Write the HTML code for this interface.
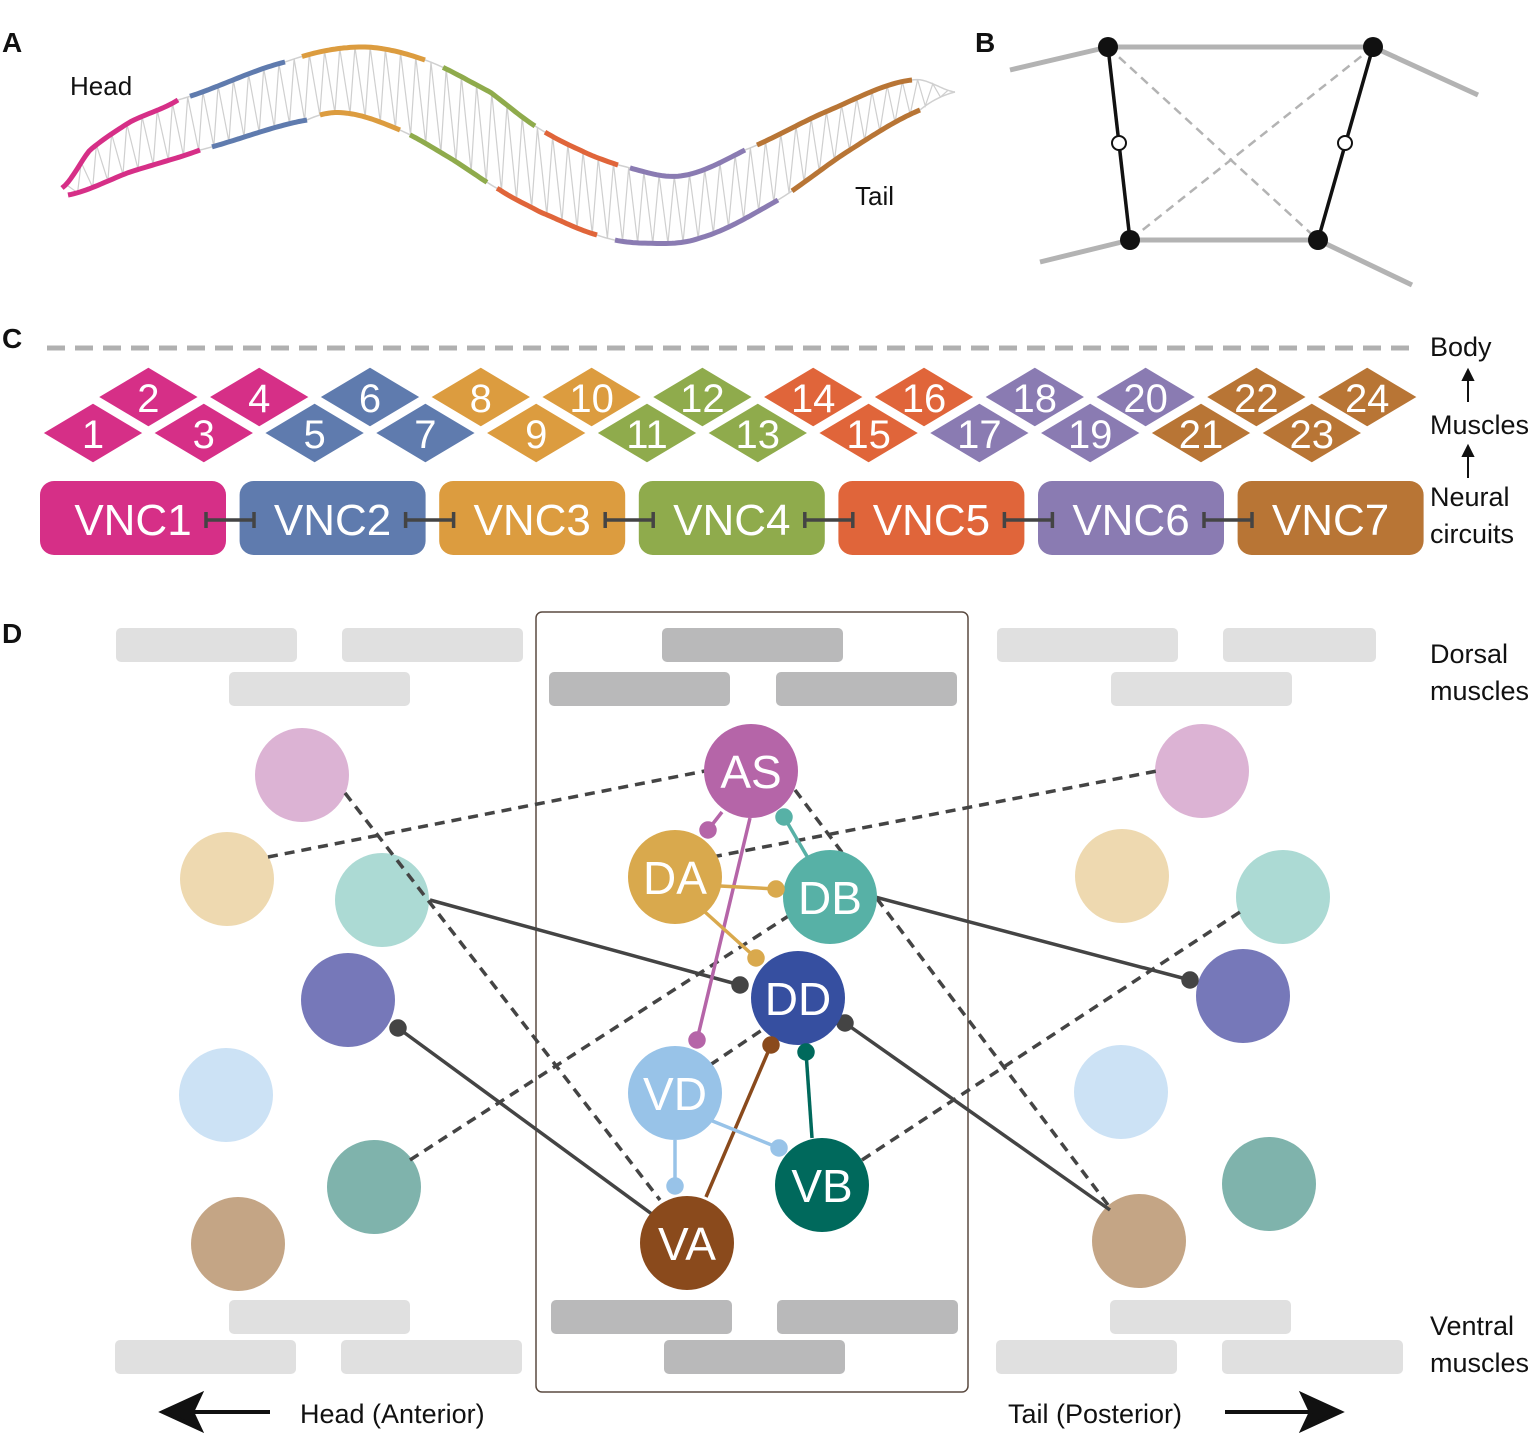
<!DOCTYPE html>
<html><head><meta charset="utf-8">
<style>
html,body{margin:0;padding:0;background:#fff;}
svg{display:block;font-family:"Liberation Sans",sans-serif;}
</style></head>
<body>
<svg id="s" width="1536" height="1433" viewBox="0 0 1536 1433" xmlns="http://www.w3.org/2000/svg">
<g font-weight="bold" font-size="28" fill="#111">
<text x="2" y="52">A</text><text x="975" y="52">B</text><text x="2" y="348">C</text><text x="2" y="643">D</text>
</g>
<g id="worm"></g>
<text x="70" y="95" font-size="26" fill="#111">Head</text>
<text x="855" y="205" font-size="26" fill="#111">Tail</text>

<!-- B -->
<g stroke="#b3b3b3" stroke-width="5" fill="none">
<line x1="1010" y1="70" x2="1108" y2="47"/><line x1="1108" y1="47" x2="1373" y2="47"/><line x1="1373" y1="47" x2="1478" y2="95"/>
<line x1="1040" y1="262" x2="1130" y2="240"/><line x1="1130" y1="240" x2="1318" y2="240"/><line x1="1318" y1="240" x2="1412" y2="285"/>
</g>
<g stroke="#b3b3b3" stroke-width="2.5" stroke-dasharray="9,6">
<line x1="1108" y1="47" x2="1318" y2="240"/><line x1="1373" y1="47" x2="1130" y2="240"/>
</g>
<g stroke="#111" stroke-width="3.5"><line x1="1108" y1="47" x2="1130" y2="240"/><line x1="1373" y1="47" x2="1318" y2="240"/></g>
<g fill="#111"><circle cx="1108" cy="47" r="10"/><circle cx="1373" cy="47" r="10"/><circle cx="1130" cy="240" r="10"/><circle cx="1318" cy="240" r="10"/></g>
<g fill="#fff" stroke="#111" stroke-width="2"><circle cx="1119" cy="143" r="7"/><circle cx="1345" cy="143" r="7"/></g>

<!-- C -->
<line x1="47" y1="348" x2="1418" y2="348" stroke="#b0b0b0" stroke-width="5" stroke-dasharray="18,10"/>
<g id="dia"></g>
<g id="vnc"></g>
<g font-size="27" fill="#111">
<text x="1430" y="356">Body</text><text x="1430" y="434">Muscles</text>
<text x="1430" y="506">Neural</text><text x="1430" y="543">circuits</text>
</g>
<g stroke="#111" stroke-width="2" fill="#111">
<line x1="1468" y1="402" x2="1468" y2="376"/><path d="M1463,380 L1468,370 L1473,380Z"/>
<line x1="1468" y1="478" x2="1468" y2="452"/><path d="M1463,456 L1468,446 L1473,456Z"/>
</g>

<!-- D -->
<g id="bars"></g>
<rect x="536" y="612" width="432" height="780" rx="6" fill="none" stroke="#5a4a40" stroke-width="1.5"/>
<g id="circs"></g>
<g stroke="#444" stroke-width="3.5" fill="none" stroke-dasharray="10,7">
<line x1="268" y1="857" x2="705" y2="771"/>
<line x1="712" y1="857" x2="1157" y2="771"/>
<line x1="345" y1="793" x2="660" y2="1200"/>
<line x1="795" y1="790" x2="1108" y2="1205"/>
<line x1="410" y1="1160" x2="790" y2="915"/>
<line x1="862" y1="1160" x2="1240" y2="912"/>
<line x1="710" y1="1065" x2="765" y2="1028"/>
</g>
<g stroke="#444" stroke-width="3.5" fill="#444">
<line x1="430" y1="900" x2="740" y2="985"/><circle cx="740" cy="985" r="7"/>
<line x1="875" y1="897" x2="1190" y2="980"/><circle cx="1190" cy="980" r="7"/>
<line x1="398" y1="1028" x2="660" y2="1220"/><circle cx="398" cy="1028" r="7"/>
<line x1="845" y1="1023" x2="1110" y2="1210"/><circle cx="845" cy="1023" r="7"/>
</g>
<g id="main"></g>
<g stroke-width="3.5">
<g stroke="#b565a8" fill="#b565a8"><line x1="722" y1="812" x2="708" y2="830"/><circle cx="708" cy="830" r="7"/>
<line x1="750" y1="818" x2="697" y2="1040"/><circle cx="697" cy="1040" r="7"/></g>
<g stroke="#57b1a6" fill="#57b1a6"><line x1="784" y1="817" x2="808" y2="858"/><circle cx="784" cy="817" r="7"/></g>
<g stroke="#d9a94d" fill="#d9a94d"><line x1="720" y1="886" x2="776" y2="889"/><circle cx="776" cy="889" r="7"/>
<line x1="705" y1="912" x2="756" y2="958"/><circle cx="756" cy="958" r="7"/></g>
<g stroke="#8a4a1c" fill="#8a4a1c"><line x1="706" y1="1197" x2="771" y2="1045"/><circle cx="771" cy="1045" r="7"/></g>
<g stroke="#00695c" fill="#00695c"><line x1="812" y1="1138" x2="806" y2="1052"/><circle cx="806" cy="1052" r="7"/></g>
<g stroke="#98c3e8" fill="#98c3e8"><line x1="675" y1="1140" x2="675" y2="1186"/><circle cx="675" cy="1186" r="7"/>
<line x1="710" y1="1120" x2="779" y2="1148"/><circle cx="779" cy="1148" r="7"/></g>
</g>
<g font-size="27" fill="#111">
<text x="1430" y="663">Dorsal</text><text x="1430" y="700">muscles</text>
<text x="1430" y="1335">Ventral</text><text x="1430" y="1372">muscles</text>
<text x="300" y="1423">Head (Anterior)</text><text x="1008" y="1423">Tail (Posterior)</text>
</g>
<g fill="#111" stroke="#111" stroke-width="4">
<line x1="190" y1="1412" x2="270" y2="1412"/><path d="M163,1412 L200,1395 L192,1412 L200,1429Z"/>
<line x1="1225" y1="1412" x2="1312" y2="1412"/><path d="M1340,1412 L1303,1395 L1311,1412 L1303,1429Z"/>
</g>
</svg>
<script>
var NS="http://www.w3.org/2000/svg";
function el(p,t,a,txt){var e=document.createElementNS(NS,t);for(var k in a)e.setAttribute(k,a[k]);if(txt!==undefined)e.textContent=txt;document.getElementById(p).appendChild(e);return e;}
var cols=["#d62f87","#5f7bae","#dc9c3f","#8fab4c","#e0653a","#8a7bb2","#b87535"];
var U=[[62,188],[90,150],[130,122],[178,100],[285,62],[360,47],[425,60],[490,92],[535,126],[580,150],[618,165],[680,176],[745,150],[830,110],[912,80],[955,92]];
var L=[[68,195],[130,172],[200,150],[307,120],[345,113],[400,130],[450,158],[500,190],[540,212],[597,235],[640,243],[700,238],[778,200],[850,150],[920,110],[955,92]];
function at(P,x){var n=P.length;for(var i=0;i<n-1;i++){if(x<=P[i+1][0]){var t=(x-P[i][0])/(P[i+1][0]-P[i][0]);
var p0=P[Math.max(0,i-1)][1],p1=P[i][1],p2=P[i+1][1],p3=P[Math.min(n-1,i+2)][1];
var t2=t*t,t3=t2*t;return 0.5*((2*p1)+(-p0+p2)*t+(2*p0-5*p1+4*p2-p3)*t2+(-p0+3*p1-3*p2+p3)*t3);}}return P[n-1][1];}
function pl(P,a,b){var s=[];for(var x=a;x<b;x+=3)s.push(x+","+at(P,x).toFixed(1));s.push(b+","+at(P,b).toFixed(1));return s.join(" ");}
el("worm","polyline",{points:pl(U,62,955),fill:"none",stroke:"#d0d0d0","stroke-width":1.5});
el("worm","polyline",{points:pl(L,68,955),fill:"none",stroke:"#d0d0d0","stroke-width":1.5});
var N=58,z=[];for(var i=0;i<=N;i++){var xu=66+i*(948-66)/N;z.push(xu+","+at(U,xu).toFixed(1));var xl=70+(i+0.5)*(948-70)/N;if(xl<950)z.push(xl+","+at(L,xl).toFixed(1));}
el("worm","polyline",{points:z.join(" "),fill:"none",stroke:"#cfcfcf","stroke-width":1.2});
var us=[[62,178],[190,285],[302,425],[443,535],[545,618],[630,745],[757,912]];
var ls=[[68,200],[212,307],[320,400],[410,487],[497,597],[615,778],[792,920]];
for(var i=0;i<7;i++){el("worm","polyline",{points:pl(U,us[i][0],us[i][1]),fill:"none",stroke:cols[i],"stroke-width":5});
el("worm","polyline",{points:pl(L,ls[i][0],ls[i][1]),fill:"none",stroke:cols[i],"stroke-width":5});}
var gi=[0,0,0,0,1,1,1,2,2,2,3,3,3,4,4,4,5,5,5,5,6,6,6,6];
for(var n=1;n<=24;n++){var cx=93+(n-1)*55.4,cy=(n%2)?433:397,c=cols[gi[n-1]];
el("dia","path",{d:"M"+(cx-52)+","+cy+" L"+cx+","+(cy-31)+" L"+(cx+52)+","+cy+" L"+cx+","+(cy+31)+"Z",fill:c,stroke:"#fff","stroke-width":3,"stroke-linejoin":"round"});
el("dia","text",{x:cx,y:cy+15,"text-anchor":"middle","font-size":40,fill:"#fff"},n);}
for(var i=0;i<7;i++){var x=40+i*199.6;el("vnc","rect",{x:x,y:481,width:186,height:74,rx:14,fill:cols[i]});
el("vnc","text",{x:x+93,y:535,"text-anchor":"middle","font-size":44,fill:"#fff"},"VNC"+(i+1));}
for(var i=0;i<6;i++){var x=40+i*199.6+166;el("vnc","path",{d:"M"+x+",520 L"+(x+48)+",520 M"+x+",512 L"+x+",528 M"+(x+48)+",512 L"+(x+48)+",528",stroke:"#444","stroke-width":3.5,fill:"none"});}
var lt="#e0e0e0",dk="#b9b9ba";
[[116,628,lt],[342,628,lt],[662,628,dk],[997,628,lt],[1223,628,lt,153],[229,672,lt],[549,672,dk],[776,672,dk],[1111,672,lt],
[229,1300,lt],[551,1300,dk],[777,1300,dk],[1110,1300,lt],[115,1340,lt],[341,1340,lt],[664,1340,dk],[996,1340,lt],[1222,1340,lt]].forEach(function(b){
el("bars","rect",{x:b[0],y:b[1],width:b[3]||181,height:34,rx:5,fill:b[2]});});
var fc=["#dcb3d4","#eed9b0","#acdad4","#7678b9","#cce2f5","#7fb3ac","#c4a585"];
var LC=[[302,775],[227,879],[382,900],[348,1000],[226,1095],[374,1187],[238,1244]];
var RC=[[1202,771],[1122,876],[1283,897],[1243,996],[1121,1092],[1269,1184],[1139,1241]];
for(var i=0;i<7;i++){el("circs","circle",{cx:LC[i][0],cy:LC[i][1],r:47,fill:fc[i]});el("circs","circle",{cx:RC[i][0],cy:RC[i][1],r:47,fill:fc[i]});}
[["AS",751,771,"#b565a8"],["DA",675,877,"#d9a94d"],["DB",830,897,"#57b1a6"],["DD",798,998,"#364fa0"],["VD",675,1093,"#98c3e8"],["VB",822,1185,"#00695c"],["VA",687,1243,"#8a4a1c"]].forEach(function(m){
el("main","circle",{cx:m[1],cy:m[2],r:47,fill:m[3]});el("main","text",{x:m[1],y:m[2]+17,"text-anchor":"middle","font-size":46,fill:"#fff"},m[0]);});
</script>
</body></html>
